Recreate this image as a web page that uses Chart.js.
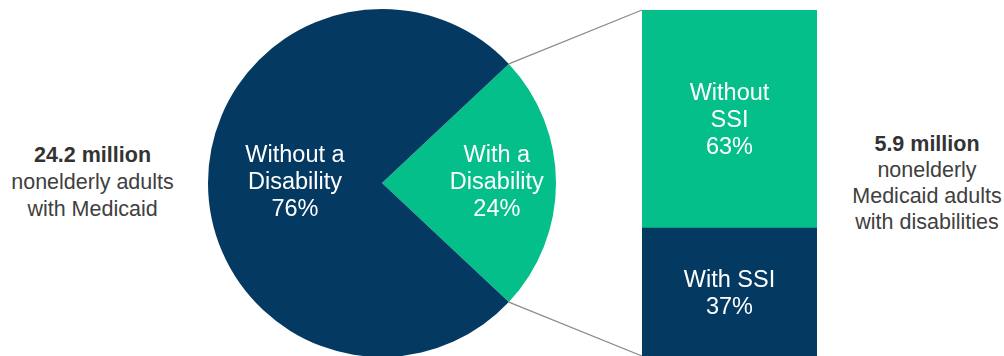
<!DOCTYPE html>
<html>
<head>
<meta charset="utf-8">
<script src="https://cdn.jsdelivr.net/npm/chart.js@4/dist/chart.umd.min.js"></script>
<style>
  html,body{margin:0;padding:0;background:#fff;}
  body{width:1004px;height:356px;position:relative;overflow:hidden;font-family:"Liberation Sans",Arial,sans-serif;}
  #pieWrap{position:absolute;left:208px;top:9px;width:348px;height:348px;}
  #barWrap{position:absolute;left:490px;top:0;width:340px;height:356px;}
  .note{position:absolute;text-align:center;color:#404040;font-size:21.5px;line-height:27px;white-space:nowrap;}
  .note b{color:#333;}
</style>
</head>
<body>
<div class="note" style="left:0;width:185px;top:142px;"><b>24.2 million</b><br>nonelderly adults<br>with Medicaid</div>
<div class="note" style="left:840px;width:174px;top:131px;line-height:26px;"><b>5.9 million</b><br>nonelderly<br>Medicaid adults<br>with disabilities</div>
<div id="pieWrap"><canvas id="pie"></canvas></div>
<div id="barWrap"><canvas id="bar"></canvas></div>
<script>
// ---- data ----
const pieLabels = [["With a", "Disability"], ["Without a", "Disability"]];
const pieValues = [24, 76];
const barLabels = [["With SSI"], ["Without", "SSI"]];
const barValues = [37, 63];
const navy = "#043a62";
const green = "#05bf8a";

const pieColors = [green, navy];
const pieLabelRadius = [0.66, 0.5];

const labelFont = '23.5px "Liberation Sans", Arial, sans-serif';
const lineH = 27;

function drawMultiline(ctx, lines, x, y) {
  const n = lines.length;
  const y0 = y - (n - 1) * lineH / 2;
  lines.forEach((t, i) => ctx.fillText(t, x, y0 + i * lineH));
}

const pieLabelPlugin = {
  id: 'pieLabels',
  afterDatasetsDraw(chart) {
    const ctx = chart.ctx;
    const meta = chart.getDatasetMeta(0);
    ctx.save();
    ctx.fillStyle = "#fff";
    ctx.font = labelFont;
    ctx.textAlign = "center";
    ctx.textBaseline = "middle";
    meta.data.forEach((arc, i) => {
      const mid = (arc.startAngle + arc.endAngle) / 2;
      const r = arc.outerRadius * pieLabelRadius[i];
      const x = arc.x + Math.cos(mid) * r;
      const y = arc.y + Math.sin(mid) * r;
      drawMultiline(ctx, pieLabels[i].concat([pieValues[i] + "%"]), x, y);
    });
    ctx.restore();
  }
};

// rotate so the first slice is centered at 3 o'clock
const firstShare = pieValues[0] / pieValues.reduce((a, b) => a + b, 0);
const pieChart = new Chart(document.getElementById('pie'), {
  type: 'pie',
  data: {
    labels: pieLabels.map(l => l.join(' ')),
    datasets: [{ data: pieValues, backgroundColor: pieColors, borderWidth: 0 }]
  },
  options: {
    responsive: true, maintainAspectRatio: false, animation: false,
    rotation: 90 - firstShare * 180,
    layout: { padding: 0 },
    plugins: { legend: { display: false }, tooltip: { enabled: false } }
  },
  plugins: [pieLabelPlugin]
});

const barLabelPlugin = {
  id: 'barLabels',
  beforeDatasetsDraw(chart) {
    // connector lines from pie slice edges to bar corners
    const pm = pieChart.getDatasetMeta(0).data[0];
    const pieCanvasRect = pieChart.canvas.getBoundingClientRect();
    const barCanvasRect = chart.canvas.getBoundingClientRect();
    const ox = pieCanvasRect.left - barCanvasRect.left;
    const oy = pieCanvasRect.top - barCanvasRect.top;
    const top = chart.getDatasetMeta(chart.data.datasets.length - 1).data[0];
    const bot = chart.getDatasetMeta(0).data[0];
    const left = top.x - top.width / 2;
    const p1 = { x: ox + pm.x + Math.cos(pm.startAngle) * pm.outerRadius, y: oy + pm.y + Math.sin(pm.startAngle) * pm.outerRadius };
    const p2 = { x: ox + pm.x + Math.cos(pm.endAngle) * pm.outerRadius, y: oy + pm.y + Math.sin(pm.endAngle) * pm.outerRadius };
    const ctx = chart.ctx;
    ctx.save();
    ctx.strokeStyle = "#8a8a8a";
    ctx.lineWidth = 1.2;
    ctx.beginPath();
    ctx.moveTo(p1.x, p1.y); ctx.lineTo(left, top.y);
    ctx.moveTo(p2.x, p2.y); ctx.lineTo(left, bot.base);
    ctx.stroke();
    ctx.restore();
  },
  afterDatasetsDraw(chart) {
    const ctx = chart.ctx;
    ctx.save();
    ctx.fillStyle = "#fff";
    ctx.font = labelFont;
    ctx.textAlign = "center";
    ctx.textBaseline = "middle";
    chart.data.datasets.forEach((ds, i) => {
      const el = chart.getDatasetMeta(i).data[0];
      const cy = (el.y + el.base) / 2 + 2;
      drawMultiline(ctx, barLabels[i].concat([barValues[i] + "%"]), el.x, cy);
    });
    ctx.restore();
  }
};

new Chart(document.getElementById('bar'), {
  type: 'bar',
  data: {
    labels: [''],
    datasets: [
      { label: barLabels[0].join(' '), data: [barValues[0]], backgroundColor: navy, borderWidth: 0, barPercentage: 1, categoryPercentage: 1 },
      { label: barLabels[1].join(' '), data: [barValues[1]], backgroundColor: green, borderWidth: 0, barPercentage: 1, categoryPercentage: 1 }
    ]
  },
  options: {
    responsive: true, maintainAspectRatio: false, animation: false,
    layout: { padding: { left: 152, right: 13, top: 10, bottom: 0 } },
    scales: {
      x: { display: false, stacked: true },
      y: { display: false, stacked: true, min: 0, max: 100 }
    },
    plugins: { legend: { display: false }, tooltip: { enabled: false } }
  },
  plugins: [barLabelPlugin]
});
</script>
</body>
</html>
